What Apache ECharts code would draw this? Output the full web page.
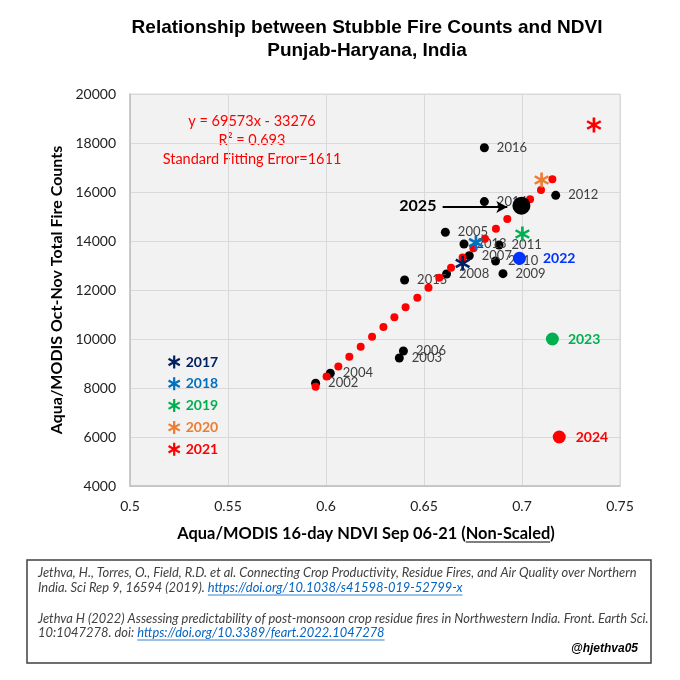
<!DOCTYPE html>
<html lang="en">

<head>
    <meta charset="UTF-8">
    <title>Stubble Fire Counts and NDVI</title>
    <style>
        body { margin: 0; background: #fff; }
        #ScatterChart { width: 680px; height: 680px; }
    </style>
</head>

<body onload="setup()">
    <div id="ScatterChart"></div>
    <script src="https://cdn.jsdelivr.net/npm/echarts@6/dist/echarts.min.js"></script>
    <script>
        // years 2002-2016, black dots
        var blackYears = ['2002', '2003', '2004', '2005', '2006', '2007', '2008', '2009', '2010', '2011', '2012', '2013', '2014', '2015', '2016']
        var blackNdvi = [0.5947, 0.6374, 0.6022, 0.6609, 0.6395, 0.6731, 0.6615, 0.6903, 0.6865, 0.6883, 0.7172, 0.6704, 0.6808, 0.6401, 0.6808]
        var blackFires = [8192, 9224, 8600, 14355, 9510, 13400, 12653, 12667, 13184, 13837, 15865, 13878, 15608, 12408, 17808]

        // red dots of the fitted line
        var fitNdvi = [0.5947, 0.6003, 0.6063, 0.6119, 0.6177, 0.6235, 0.6293, 0.6349, 0.6406, 0.6466, 0.6523, 0.6578, 0.6638, 0.6697, 0.6752, 0.6811, 0.6867, 0.6925, 0.6983, 0.7041, 0.7097, 0.7155]
        var fitFires = [8055, 8470, 8880, 9278, 9686, 10094, 10490, 10886, 11293, 11686, 12095, 12505, 12910, 13330, 13700, 14094, 14504, 14898, 15300, 15700, 16082, 16518]

        // asterisk years
        var starYears = ['2017', '2018', '2019', '2020', '2021']
        var starNdvi = [0.6697, 0.6765, 0.7002, 0.7100, 0.7367]
        var starFires = [13090, 13930, 14286, 16490, 18735]
        var starColors = ['#002060', '#0070c0', '#00b050', '#ed7d31', '#ff0000']

        // recent years, big dots
        var bigYears = ['2022', '2023', '2024', '2025']
        var bigNdvi = [0.6987, 0.7155, 0.7190, 0.6997]
        var bigFires = [13294, 10000, 6000, 15441]
        var bigColors = ['#0033ff', '#00b050', '#ff0000', '#000000']

        var fitLines = ['y = 69573x - 33276', 'R\u00b2 = 0.693', 'Standard Fitting Error=1611']

        var xMin = 0.5, xMax = 0.75, xStep = 0.05
        var yMin = 4000, yMax = 20000, yStep = 2000

        var xName = ['Aqua/MODIS 16-day NDVI Sep 06-21 (', 'Non-Scaled', ')']

        var STAR = 'path://M-1.7,-10L1.7,-10L1.7,10L-1.7,10ZM9.51,-3.53L-7.81,6.47L-9.51,3.53L7.81,-6.47ZM7.81,6.47L-9.51,-3.53L-7.81,-6.47L9.51,3.53Z'
        var FONT = 'Lato'

        var ScatterChart
        var measureCtx = document.createElement('canvas').getContext('2d')

        function textWidth(text, font) {
            measureCtx.font = font
            return measureCtx.measureText(text).width
        }

        function setup() {
            ScatterChart = echarts.init(document.getElementById('ScatterChart'))
            ScatterChart.setOption(buildOption(), true)
        }

        function buildOption() {
            let series = []

            series.push({
                name: 'Fire Counts',
                type: 'scatter',
                symbolSize: 9,
                z: 2,
                itemStyle: { color: '#000', opacity: 1 },
                label: {
                    show: true, position: 'right', distance: 8,
                    formatter: function (p) { return p.data[2] },
                    fontFamily: FONT, fontSize: 13, color: '#404040'
                },
                data: blackYears.map((yr, i) => [blackNdvi[i], blackFires[i], yr])
            })

            series.push({
                name: 'Fit',
                type: 'scatter',
                symbolSize: 8,
                z: 3,
                itemStyle: { color: '#ff0000', opacity: 1 },
                data: fitNdvi.map((x, i) => [x, fitFires[i]])
            })

            starYears.forEach((yr, i) => {
                series.push({
                    name: yr,
                    type: 'scatter',
                    symbol: STAR,
                    symbolSize: 15,
                    z: 4,
                    itemStyle: { color: starColors[i], opacity: 1 },
                    data: [[starNdvi[i], starFires[i]]]
                })
            })

            let bigLabel = [
                { position: 'right', distance: 17, fontSize: 14 },
                { position: 'right', distance: 9, fontSize: 14 },
                { position: 'right', distance: 10, fontSize: 14 },
                { position: 'left', distance: 76, fontSize: 16 }
            ]
            bigYears.forEach((yr, i) => {
                let s = {
                    name: yr,
                    type: 'scatter',
                    symbolSize: yr == '2025' ? 18 : 13,
                    z: 5,
                    itemStyle: { color: bigColors[i], opacity: 1 },
                    label: {
                        show: true,
                        position: bigLabel[i].position,
                        distance: bigLabel[i].distance,
                        formatter: yr,
                        fontFamily: FONT, fontWeight: 'bold',
                        fontSize: bigLabel[i].fontSize,
                        color: bigColors[i]
                    },
                    data: [[bigNdvi[i], bigFires[i]]]
                }
                if (yr == '2025') {
                    s.markLine = {
                        silent: true,
                        symbol: ['none', 'arrow'],
                        symbolSize: [9, 11],
                        label: { show: false },
                        lineStyle: { color: '#000', width: 2, type: 'solid' },
                        data: [[{ coord: [0.6595, 15390] }, { coord: [0.6925, 15390] }]]
                    }
                }
                series.push(s)
            })

            // x axis name: centred at 366, "Non-Scaled" underlined
            let nameFont = 'bold 16.4px ' + FONT
            let nameW = textWidth(xName.join(''), nameFont)
            let nameLeft = 366 - nameW / 2
            let ulStart = nameLeft + textWidth(xName[0], nameFont)
            let ulEnd = ulStart + textWidth(xName[1], nameFont)

            let graphic = [
                {
                    type: 'text', x: 367, y: 28,
                    style: { text: 'Relationship between Stubble Fire Counts and NDVI', font: 'bold 19px "Liberation Sans"', fill: '#000', align: 'center', verticalAlign: 'middle' }
                },
                {
                    type: 'text', x: 367, y: 51,
                    style: { text: 'Punjab-Haryana, India', font: 'bold 19px "Liberation Sans"', fill: '#000', align: 'center', verticalAlign: 'middle' }
                },
                {
                    type: 'line', shape: { x1: ulStart, y1: 542, x2: ulEnd, y2: 542 },
                    style: { stroke: '#000', lineWidth: 1.2 }
                },
                // citation box
                {
                    type: 'rect', shape: { x: 27, y: 560, width: 624, height: 103 },
                    style: { fill: '#fff', stroke: '#404040', lineWidth: 1.5 }
                }
            ]

            fitLines.forEach((t, i) => {
                graphic.push({
                    type: 'text', x: 252, y: 121 + i * 19,
                    style: { text: t, font: '14.5px ' + FONT, fill: '#ff0000', align: 'center', verticalAlign: 'middle' }
                })
            })

            let citeFont = 'italic 12.9px ' + FONT
            let cites = [
                ['Jethva, H., Torres, O., Field, R.D. et al. Connecting Crop Productivity, Residue Fires, and Air Quality over Northern', '', 573],
                ['India. Sci Rep 9, 16594 (2019). ', 'https://doi.org/10.1038/s41598-019-52799-x', 588],
                ['Jethva H (2022) Assessing predictability of post-monsoon crop residue fires in Northwestern India. Front. Earth Sci.', '', 619],
                ['10:1047278. doi: ', 'https://doi.org/10.3389/feart.2022.1047278', 633]
            ]
            cites.forEach(c => {
                graphic.push({
                    type: 'text', x: 38, y: c[2],
                    style: { text: c[0], font: citeFont, fill: '#404040', align: 'left', verticalAlign: 'middle' }
                })
                if (c[1]) {
                    let lx = 38 + textWidth(c[0], citeFont)
                    graphic.push({
                        type: 'text', x: lx, y: c[2],
                        style: { text: c[1], font: citeFont, fill: '#0563c1', align: 'left', verticalAlign: 'middle' }
                    })
                    graphic.push({
                        type: 'line', shape: { x1: lx, y1: c[2] + 7, x2: lx + textWidth(c[1], citeFont), y2: c[2] + 7 },
                        style: { stroke: '#0563c1', lineWidth: 0.8 }
                    })
                }
            })
            graphic.push({
                type: 'text', x: 638, y: 649,
                style: { text: '@hjethva05', font: 'italic bold 12px "Liberation Sans"', fill: '#000', align: 'right', verticalAlign: 'middle' }
            })

            return {
                animation: false,
                backgroundColor: '#fff',
                grid: {
                    left: 130, right: 60, top: 94, bottom: 194,
                    show: true, backgroundColor: '#f2f2f2', borderColor: '#d9d9d9', borderWidth: 1
                },
                legend: {
                    orient: 'vertical',
                    left: 163, top: 350,
                    itemWidth: 13, itemHeight: 13, itemGap: 7.8,
                    selectedMode: false,
                    textStyle: { fontFamily: FONT, fontWeight: 'bold', fontSize: 14 },
                    data: starYears.map((yr, i) => ({ name: yr, textStyle: { color: starColors[i] } }))
                },
                xAxis: {
                    type: 'value',
                    min: xMin, max: xMax, interval: xStep,
                    name: xName.join(''),
                    nameLocation: 'middle', nameGap: 40,
                    nameTextStyle: { fontFamily: FONT, fontWeight: 'bold', fontSize: 16.4, color: '#000', padding: [0, 18, 0, 0] },
                    axisLine: { show: true, lineStyle: { color: '#bfbfbf', width: 1.5 } },
                    axisTick: { show: false },
                    axisLabel: { margin: 13, fontFamily: FONT, fontSize: 14, color: '#222' },
                    splitLine: { show: true, lineStyle: { color: '#d9d9d9', width: 1 } }
                },
                yAxis: {
                    type: 'value',
                    min: yMin, max: yMax, interval: yStep,
                    name: 'Aqua/MODIS Oct-Nov Total Fire Counts',
                    nameLocation: 'middle', nameGap: 51, nameRotate: 90,
                    nameTextStyle: { fontFamily: FONT, fontWeight: 'bold', fontSize: 16, color: '#000' },
                    axisLine: { show: true, lineStyle: { color: '#bfbfbf', width: 1.5 } },
                    axisTick: { show: false },
                    axisLabel: {
                        margin: 14, fontFamily: FONT, fontSize: 14, color: '#222',
                        formatter: function (v) { return String(v) }
                    },
                    splitLine: { show: true, lineStyle: { color: '#d9d9d9', width: 1 } }
                },
                graphic: graphic,
                series: series
            }
        }
    </script>
</body>

</html>
